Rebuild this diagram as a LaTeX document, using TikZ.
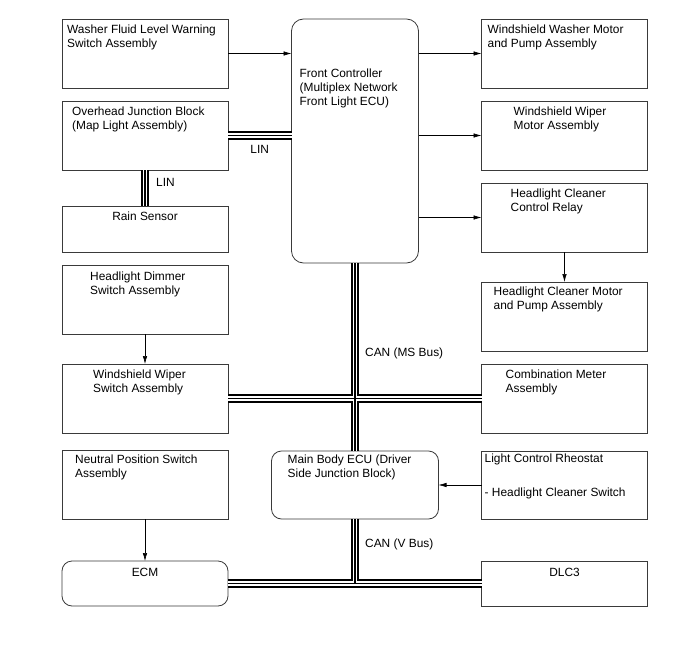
\documentclass[tikz,border=0pt]{standalone}
\usepackage{fontspec}
\setmainfont{Liberation Sans}
\usetikzlibrary{arrows.meta,positioning}
\definecolor{edge}{HTML}{3A3A3A}

\begin{document}
\begin{tikzpicture}[x=1pt,y=-1pt,
  blk/.style={draw=edge,line width=0.8pt,minimum width=166pt,minimum height=69pt,inner sep=0pt,outer sep=0pt},
  rblk/.style={blk,rounded corners=10pt},
  txt/.style={font=\fontsize{11.9}{13.8}\selectfont,align=left,inner sep=0pt,anchor=north west},
  ar/.style={-{Latex[length=8pt,width=4.5pt]},line width=0.6pt},
  bus/.style={draw=white,line width=4.4pt,preaction={draw=black,line width=8.6pt},postaction={draw=black,line width=1.2pt}},
  lb/.style={font=\fontsize{11.9}{13.8}\selectfont,inner sep=0pt}]
  \useasboundingbox (0,0) rectangle (688,658);
  % left column
  \node[blk] (wfl) at (145,53.5) {};
  \node[blk,below=13pt of wfl] (ojb) {};
  \node[blk,minimum height=46pt,below=36pt of ojb] (rain) {};
  \node[blk,below=13pt of rain] (dim) {};
  \node[blk,below=30pt of dim] (wsw) {};
  \node[blk,below=17pt of wsw] (nps) {};
  \node[rblk,minimum height=45pt,below=42pt of nps] (ecm) {};
  % middle
  \node[rblk,rounded corners=12pt,minimum width=127pt,minimum height=244pt] (fc) at (355,141) {};
  \node[rblk,minimum width=167pt,minimum height=68pt] (mbecu) at (355,485) {};
  % right column
  \node[blk] (wwm) at (564.5,53.5) {};
  \node[blk,below=13pt of wwm] (wipm) {};
  \node[blk,below=13pt of wipm] (hcr) {};
  \node[blk,below=30pt of hcr] (hcm) {};
  \node[blk,below=13pt of hcm] (meter) {};
  \node[blk,minimum height=68pt,below=18pt of meter] (rheo) {};
  \node[blk,minimum height=45pt,below=42pt of rheo] (dlc) {};
  % texts
  \node[txt,below right=6pt and 5pt of wfl.north west] (wfltxt) {Washer Fluid Level Warning\\Switch Assembly};
  \node[txt,below right=6pt and 10pt of ojb.north west] (ojbtxt) {Overhead Junction Block\\(Map Light Assembly)};
  \node[txt,below=6pt of rain.north] (raintxt) {Rain Sensor};
  \node[txt,below right=7pt and 28pt of dim.north west] (dimtxt) {Headlight Dimmer\\Switch Assembly};
  \node[txt,below right=6pt and 31pt of wsw.north west] (wswtxt) {Windshield Wiper\\Switch Assembly};
  \node[txt,below right=5pt and 13pt of nps.north west] (npstxt) {Neutral Position Switch\\Assembly};
  \node[txt,below=7pt of ecm.north] (ecmtxt) {ECM};
  \node[txt,below right=50pt and 8pt of fc.north west] (fctxt) {Front Controller\\(Multiplex Network\\Front Light ECU)};
  \node[txt,below right=4pt and 16pt of mbecu.north west] (mbecutxt) {Main Body ECU (Driver\\Side Junction Block)};
  \node[txt,below right=6pt and 6pt of wwm.north west] (wwmtxt) {Windshield Washer Motor\\and Pump Assembly};
  \node[txt,below right=6pt and 32pt of wipm.north west] (wipmtxt) {Windshield Wiper\\Motor Assembly};
  \node[txt,below right=6pt and 29pt of hcr.north west] (hcrtxt) {Headlight Cleaner\\Control Relay};
  \node[txt,below right=5pt and 12pt of hcm.north west] (hcmtxt) {Headlight Cleaner Motor\\and Pump Assembly};
  \node[txt,below right=6pt and 24pt of meter.north west] (metertxt) {Combination Meter\\Assembly};
  \node[txt,below right=3pt and 3pt of rheo.north west] (rheotxt) {Light Control Rheostat\\[20pt]- Headlight Cleaner Switch};
  \node[txt,below=7pt of dlc.north] (dlctxt) {DLC3};
  % buses
  \draw[bus] (ojb.east) -- node[lb,below=8pt] (linh) {LIN} (ojb.east -| fc.west);
  \draw[bus] (ojb.south) -- node[lb,right=9pt,pos=0.35] (linv) {LIN} (rain.north);
  \draw[bus] (wsw.east) -- (meter.west) (fc.south) -- node[lb,right=8pt,pos=0.48] (msbus) {CAN (MS Bus)} (mbecu.north);
  \draw[bus] (ecm.east) -- (dlc.west) (mbecu.south) -- node[lb,right=8pt,pos=0.4] (vbus) {CAN (V Bus)} (mbecu.south |- ecm.east);
  % signal lines
  \draw[ar] (wfl.east) -- (wfl.east -| fc.west);
  \draw[ar] (fc.east |- wwm.west) -- (wwm.west);
  \draw[ar] (fc.east |- wipm.west) -- (wipm.west);
  \draw[ar] (fc.east |- hcr.west) -- (hcr.west);
  \draw[ar] (hcr) -- (hcm);
  \draw[ar] (dim) -- (wsw);
  \draw[ar] (nps) -- (ecm);
  \draw[ar] (rheo) -- (mbecu);
\end{tikzpicture}
\end{document}
